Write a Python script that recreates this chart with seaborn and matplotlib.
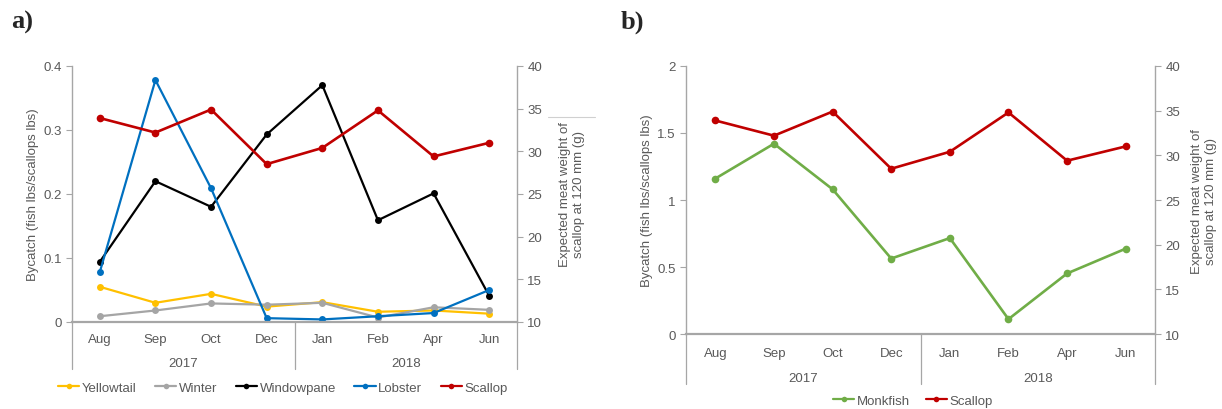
import numpy as np
import pandas as pd
import matplotlib
matplotlib.use("Agg")
import matplotlib.pyplot as plt
import seaborn as sns
from matplotlib.lines import Line2D

months = ["Aug", "Sep", "Oct", "Dec", "Jan", "Feb", "Apr", "Jun"]
years = ["2017", "2018"]

yellowtail = [0.055, 0.030, 0.044, 0.024, 0.031, 0.016, 0.018, 0.013]
winter = [0.009, 0.018, 0.029, 0.027, 0.030, 0.007, 0.023, 0.019]
windowpane = [0.094, 0.220, 0.180, 0.293, 0.370, 0.159, 0.201, 0.041]
lobster = [0.078, 0.378, 0.209, 0.006, 0.004, 0.009, 0.014, 0.050]
scallop = [33.9, 32.2, 34.9, 28.5, 30.4, 34.8, 29.4, 31.0]
monkfish = [1.16, 1.42, 1.08, 0.563, 0.716, 0.111, 0.452, 0.637]

sns.set_theme(style="white")
plt.rcParams["font.family"] = ["Liberation Sans", "DejaVu Sans"]

GREY_TXT = "#595959"
SPINE = "#A6A6A6"
colors = {"Yellowtail": "#FFC000", "Winter": "#A5A5A5", "Windowpane": "#000000",
          "Lobster": "#0070C0", "Scallop": "#C00000", "Monkfish": "#70AD47"}

fig = plt.figure(figsize=(12.22, 4.10), dpi=100)

pos = np.arange(len(months))


def long_df(series):
    rows = []
    for name, vals in series.items():
        for i, v in enumerate(vals):
            rows.append({"x": pos[i], "Month": months[i], "Species": name, "value": v})
    return pd.DataFrame(rows)


def style_axes(ax, ax2, left_ticks, left_lim, month_off, year_off, sep_bottom, rpad):
    ax.set_xlim(-0.5, len(months) - 0.5)
    ax.set_ylim(*left_lim)
    ax.set_yticks(left_ticks)
    ax.set_yticklabels([("%g" % t) for t in left_ticks])
    ax2.set_ylim(10, 40)
    ax2.set_yticks(range(10, 41, 5))
    for a in (ax, ax2):
        for s in a.spines.values():
            s.set_color(SPINE)
            s.set_linewidth(1.0)
        a.spines["top"].set_visible(False)
        a.tick_params(axis="y", colors=GREY_TXT, labelsize=9.5, length=4, width=0.8,
                      direction="out", color=SPINE)
        a.set_xlabel("")
        a.grid(False)
    ax.spines["right"].set_visible(False)
    ax2.spines["left"].set_visible(False)
    ax2.spines["bottom"].set_visible(False)
    ax.spines["bottom"].set_linewidth(1.6)
    ax.set_xticks(pos)
    ax.set_xticklabels(months)
    ax.tick_params(axis="x", length=0, colors=GREY_TXT, labelsize=9.5, pad=month_off)
    ax.tick_params(axis="y", left=True)
    ax2.tick_params(axis="y", right=True)
    ax.set_ylabel("Bycatch (fish lbs/scallops lbs)", color=GREY_TXT, fontsize=9.5, labelpad=3)
    ax2.set_ylabel("Expected meat weight of\nscallop at 120 mm (g)", color=GREY_TXT,
                   fontsize=9.5, labelpad=rpad)
    trans = ax.get_xaxis_transform()
    for xs in (-0.5, 3.5, 7.5):
        ax.plot([xs, xs], [0, sep_bottom], transform=trans, color=SPINE, lw=0.9,
                clip_on=False)
    ax.text(1.5, year_off, years[0], transform=trans, ha="center", va="center",
            color=GREY_TXT, fontsize=9.5)
    ax.text(5.5, year_off, years[1], transform=trans, ha="center", va="center",
            color=GREY_TXT, fontsize=9.5)


# ---------------- panel a ----------------
axa = fig.add_axes([0.0589, 0.2122, 0.3642, 0.6244])
axa2 = axa.twinx()
dfa = long_df({"Yellowtail": yellowtail, "Winter": winter,
               "Windowpane": windowpane, "Lobster": lobster})
sns.lineplot(data=dfa, x="x", y="value", hue="Species", palette=colors, marker="o",
             markersize=5, markeredgewidth=0, linewidth=1.6, errorbar=None, sort=False,
             legend=False, ax=axa)
dfs = long_df({"Scallop": scallop})
sns.lineplot(data=dfs, x="x", y="value", hue="Species", palette=colors, marker="o",
             markersize=5.5, markeredgewidth=0, linewidth=1.9, errorbar=None, sort=False,
             legend=False, ax=axa2)
style_axes(axa, axa2, [0, 0.1, 0.2, 0.3, 0.4], (0, 0.4), 8, -0.162, -0.185, 12)

# ---------------- panel b ----------------
axb = fig.add_axes([0.5614, 0.1829, 0.3838, 0.6537])
axb2 = axb.twinx()
dfb = long_df({"Monkfish": monkfish})
sns.lineplot(data=dfb, x="x", y="value", hue="Species", palette=colors, marker="o",
             markersize=5.5, markeredgewidth=0, linewidth=1.9, errorbar=None, sort=False,
             legend=False, ax=axb)
sns.lineplot(data=dfs, x="x", y="value", hue="Species", palette=colors, marker="o",
             markersize=5.5, markeredgewidth=0, linewidth=1.9, errorbar=None, sort=False,
             legend=False, ax=axb2)
style_axes(axb, axb2, [0, 0.5, 1, 1.5, 2], (0, 2), 9, -0.165, -0.185, 8)

# legends
def handles(names):
    return [Line2D([0], [0], color=colors[n], marker="o", markersize=4, lw=1.6,
                   markeredgewidth=0) for n in names]

names_a = ["Yellowtail", "Winter", "Windowpane", "Lobster", "Scallop"]
fig.legend(handles(names_a), names_a, loc="center", bbox_to_anchor=(0.2316, 0.052),
           ncol=5, frameon=False, fontsize=9.5, handlelength=1.6, handletextpad=0.2,
           columnspacing=1.4, labelcolor=GREY_TXT)
names_b = ["Monkfish", "Scallop"]
fig.legend(handles(names_b), names_b, loc="center", bbox_to_anchor=(0.747, 0.02),
           ncol=2, frameon=False, fontsize=9.5, handlelength=1.6, handletextpad=0.2,
           columnspacing=1.2, labelcolor=GREY_TXT)

# panel letters
fig.text(0.009, 0.945, "a)", fontsize=19, fontweight="bold", family="Liberation Serif",
         va="center", ha="left")
fig.text(0.508, 0.945, "b)", fontsize=19, fontweight="bold", family="Liberation Serif",
         va="center", ha="left")

# small stray rule next to right label of panel a
fig.add_artist(Line2D([548 / 1222, 595 / 1222], [1 - 118 / 410, 1 - 118 / 410],
                      color="#D0D0D0", lw=0.8))

fig.savefig("out.png", dpi=100)
